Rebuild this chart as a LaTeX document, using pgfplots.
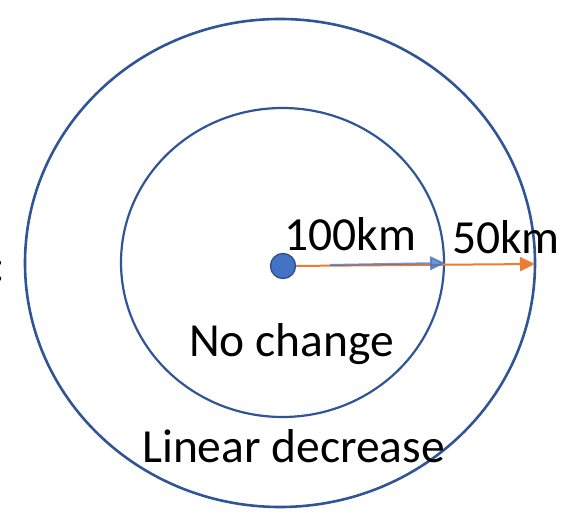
\documentclass[border=0pt]{standalone}
\usepackage{pgfplots}
\pgfplotsset{compat=1.18}
\usepackage{fontspec}
\setmainfont{Carlito}
\usetikzlibrary{arrows.meta}
\definecolor{ringblue}{HTML}{2F5597}
\definecolor{dotblue}{HTML}{4472C4}
\definecolor{dotedge}{HTML}{2F528F}
\definecolor{arrorange}{HTML}{ED7D31}
\newcommand{\bigf}{\fontsize{47.5bp}{57bp}\selectfont}
\tikzset{lbl/.style={font=\bigf, inner sep=0pt, text=black}}
\begin{document}
\begin{tikzpicture}
\useasboundingbox (0,0) rectangle (571bp,513bp);
\clip (0,0) rectangle (571bp,513bp);
\begin{axis}[
  at={(0,0)}, anchor=south west,
  scale only axis, width=571bp, height=513bp,
  xmin=0, xmax=571, ymin=0, ymax=513,
  hide axis, clip=false,
]
% rings
\draw[ringblue, line width=2.6bp] (axis cs:280,250) ellipse [x radius=255, y radius=244];
\draw[ringblue, line width=2.2bp] (axis cs:282.5,250.5) ellipse [x radius=161.5, y radius=154.5];
% arrows
\addplot[arrorange, line width=2bp, -{Triangle[length=15bp,width=14bp]}, forget plot]
  coordinates {(290,247) (535,249)};
\addplot[dotblue, line width=2bp, opacity=0.75, -{Triangle[length=15bp,width=14bp]}, forget plot]
  coordinates {(330,248) (445,250)};
% centre dot
\addplot[only marks, mark=*, mark size=12.5bp, mark options={fill=dotblue, draw=dotedge, line width=1.4bp}, forget plot]
  coordinates {(283,247)};
% labels
\node[lbl, anchor=base west] at (axis cs:284,262) {100km};
\node[lbl, anchor=base west] at (axis cs:452,259) {50km};
\node[lbl, anchor=base west] at (axis cs:189,156) {No change};
\node[lbl, anchor=base west] at (axis cs:142,50) {Linear decrease};
\node[lbl, anchor=base east] at (axis cs:5,231) {:};
\end{axis}
\end{tikzpicture}
\end{document}
